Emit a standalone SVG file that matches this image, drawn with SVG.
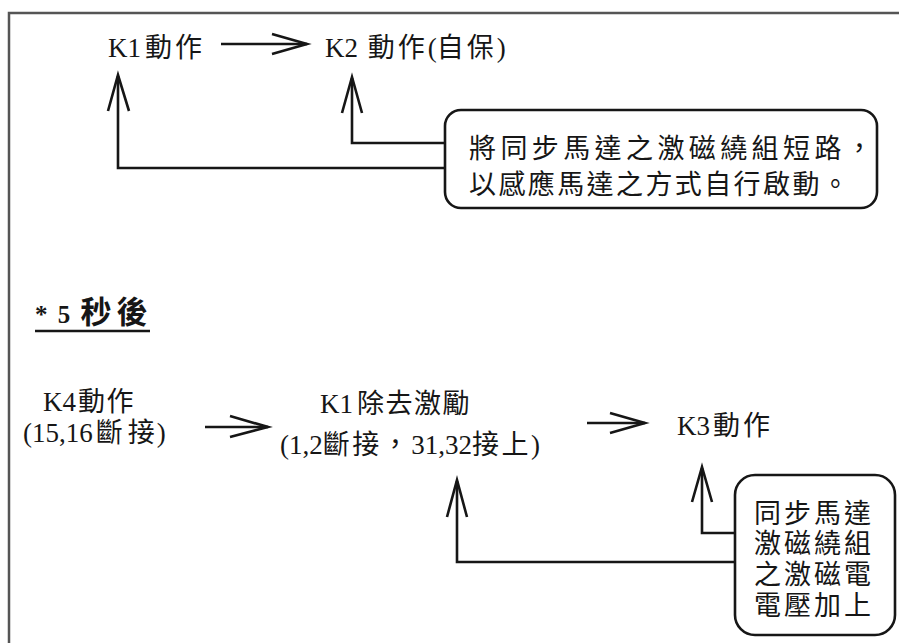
<svg xmlns="http://www.w3.org/2000/svg" width="899" height="643" viewBox="0 0 899 643">
<style>
  .t { font-family: "Liberation Serif", "Noto Sans CJK TC", serif; font-size: 27px; fill: #161616; }
  .c { font-family: "Noto Sans CJK TC", serif; font-size: 27px; fill: #161616; }
  .ln { fill: none; stroke: #161616; stroke-width: 2.6; stroke-linejoin: miter; stroke-linecap: butt; }
  .box { fill: #ffffff; stroke: #161616; stroke-width: 2.6; }
  .frame { stroke: #555555; stroke-width: 2.5; fill: none; }
</style>
<rect x="0" y="0" width="899" height="643" fill="#ffffff"/>
<path class="frame" d="M9,643 V13 H899"/>

<g id="connectors">
  <line class="ln" x1="221" y1="44" x2="307" y2="44"/>
  <polyline class="ln" points="272,34 307,44 272,54"/>
  <path class="ln" d="M445,168 H118 V76"/>
  <polyline class="ln" points="108,111 118,75 129,111"/>
  <path class="ln" d="M445,143 H352 V78"/>
  <polyline class="ln" points="342,113 352,77 362,113"/>
  <line class="ln" x1="205" y1="427" x2="268" y2="427"/>
  <polyline class="ln" points="230,416 268,427 230,437"/>
  <line class="ln" x1="587" y1="423" x2="645" y2="423"/>
  <polyline class="ln" points="610,413 645,423 610,433"/>
  <path class="ln" d="M735,562 H457 V481"/>
  <polyline class="ln" points="447,517 457,480 467,517"/>
  <path class="ln" d="M735,533 H702 V468"/>
  <polyline class="ln" points="692,502 702,467 712,502"/>
</g>

<g id="k1-act">
  <text class="t" x="108" y="57">K1<tspan dx="4" style="letter-spacing:3px">動作</tspan></text>
</g>
<g id="k2-act">
  <text class="t" x="325" y="57" style="word-spacing:3px">K2 <tspan style="letter-spacing:3px">動作</tspan>(<tspan style="letter-spacing:3px">自保</tspan>)</text>
</g>
<g id="note-top">
  <rect class="box" x="445" y="110" width="432" height="98" rx="16" ry="16"/>
  <text class="c" x="469" y="158" style="letter-spacing:4.4px">將同步馬達之激磁繞組短路，</text>
  <text class="c" x="469" y="194" style="letter-spacing:2.4px">以感應馬達之方式自行啟動。</text>
</g>
<g id="title-5s">
  <text class="t" x="35" y="323" style="font-weight:bold;font-size:25px;word-spacing:4px">* 5 <tspan style="font-size:31px;letter-spacing:5px">秒後</tspan></text>
  <line x1="35" y1="331" x2="150" y2="331" stroke="#161616" stroke-width="2.5"/>
</g>
<g id="k4-act">
  <text class="t" x="43" y="411">K4<tspan dx="2" style="letter-spacing:1.5px">動作</tspan></text>
  <text class="t" x="23" y="442">(15,16<tspan dx="3">斷</tspan><tspan dx="5">接</tspan><tspan dx="2">)</tspan></text>
</g>
<g id="k1-remove">
  <text class="t" x="320" y="413">K1<tspan dx="4" style="letter-spacing:1.5px">除去激勵</tspan></text>
  <text class="t" x="280" y="454">(1,2<tspan style="letter-spacing:2.5px">斷接，</tspan>31,32<tspan style="letter-spacing:2.5px">接上</tspan>)</text>
</g>
<g id="k3-act">
  <text class="t" x="677" y="435">K3<tspan dx="3" style="letter-spacing:3px">動作</tspan></text>
</g>
<g id="note-bottom">
  <rect class="box" x="735" y="475" width="160" height="160" rx="20" ry="20"/>
  <text class="c" style="letter-spacing:3px"><tspan x="754" y="523">同步馬達</tspan><tspan x="754" y="553">激磁繞組</tspan><tspan x="754" y="584">之激磁電</tspan><tspan x="754" y="615">電壓加上</tspan></text>
</g>
</svg>
